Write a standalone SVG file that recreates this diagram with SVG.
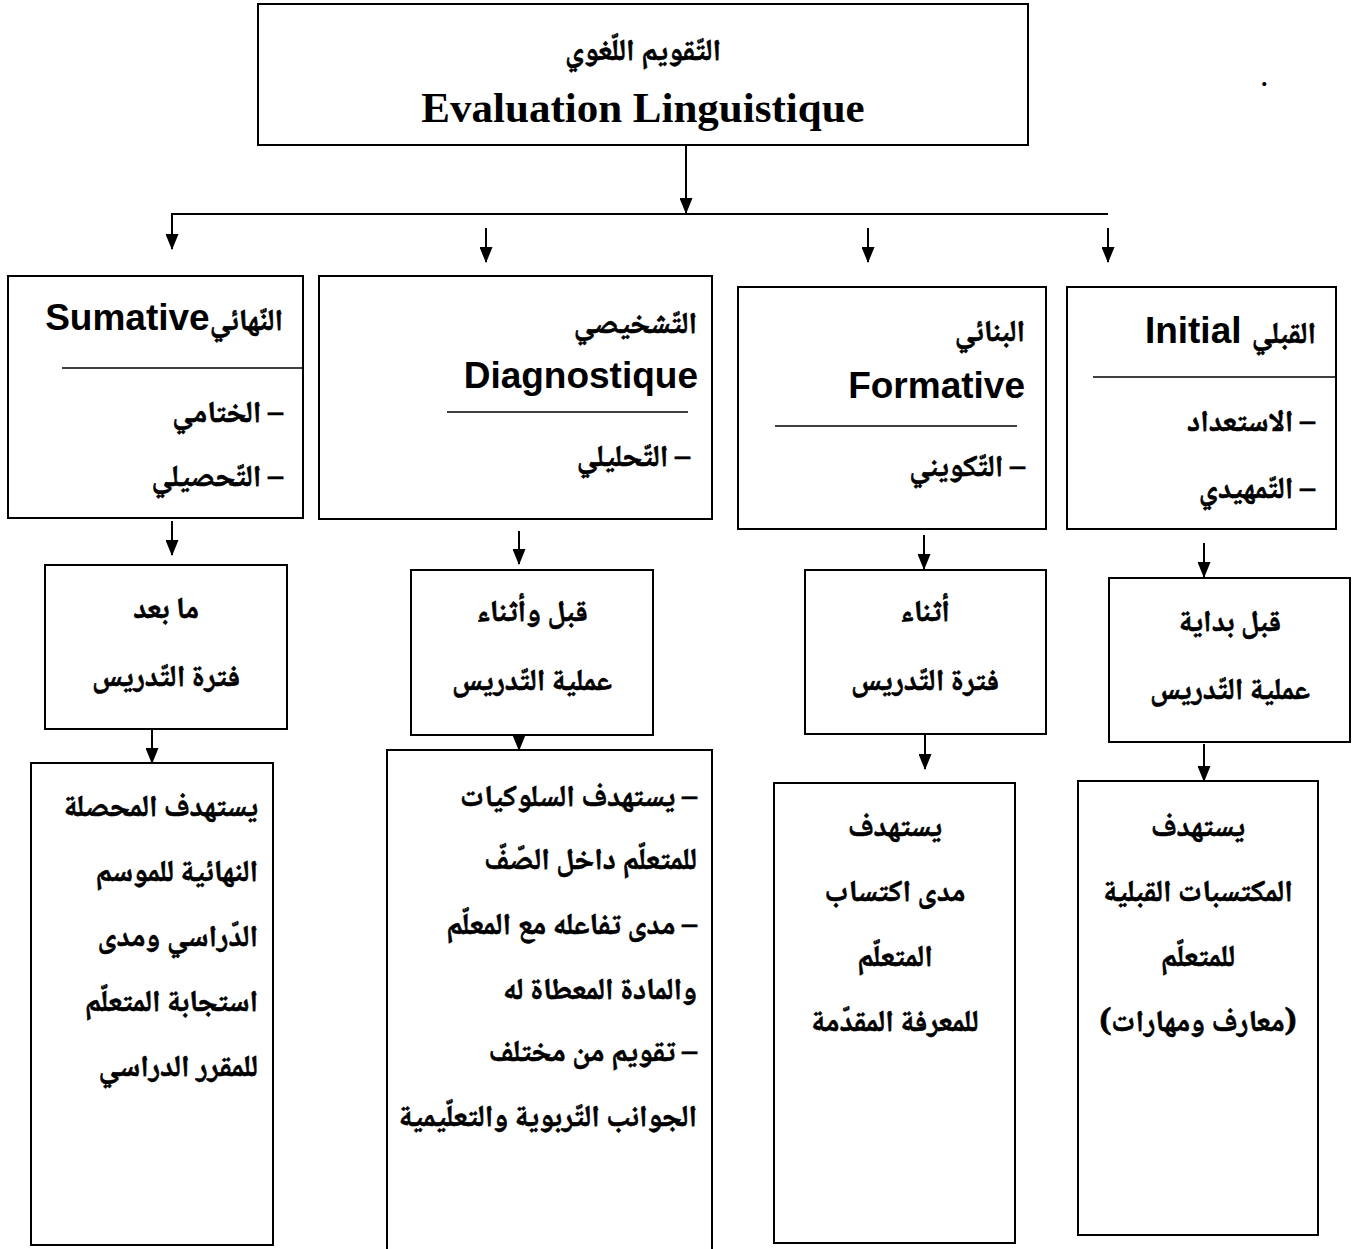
<svg xmlns="http://www.w3.org/2000/svg" width="1352" height="1249" viewBox="0 0 1352 1249">
<style>
.box{fill:#fff;stroke:#000;stroke-width:2}
.sep{stroke:#000;stroke-width:1.5}
.ar{font-family:"Noto Naskh Arabic","Noto Sans Arabic","DejaVu Sans",sans-serif;font-weight:bold;font-size:30px;fill:#000;stroke:#000;stroke-width:0.6}
.lat{font-family:"Liberation Sans",Arial,sans-serif;font-weight:bold;font-size:37px;fill:#000}
.ser{font-family:"Liberation Serif","Times New Roman",serif;font-weight:bold;font-size:43px;fill:#000}
.conn{stroke:#000;stroke-width:2;fill:none}
.e{text-anchor:end}
.m{text-anchor:middle}
.r{direction:rtl;text-anchor:start}
</style>
<defs>
<marker id="arr" markerUnits="userSpaceOnUse" markerWidth="16" markerHeight="13" refX="15" refY="6.5" orient="auto" viewBox="0 0 16 13">
<path d="M0,0 L16,6.5 L0,13 Z" fill="#000"/>
</marker>
</defs>

<g id="top">
<rect class="box" x="258" y="4" width="770" height="141"/>
<text class="ar m" x="643" y="60">التّقويم اللّغوي</text>
<text class="ser m" x="643" y="122">Evaluation Linguistique</text>
</g>
<text x="1260" y="86" font-family="Liberation Serif,serif" font-size="34">.</text>

<g id="connectors">
<line class="conn" x1="686" y1="145" x2="686" y2="213" marker-end="url(#arr)"/>
<polyline class="conn" points="1108,214 172,214 172,249" marker-end="url(#arr)"/>
<line class="conn" x1="486" y1="228" x2="486" y2="262" marker-end="url(#arr)"/>
<line class="conn" x1="868" y1="228" x2="868" y2="262" marker-end="url(#arr)"/>
<line class="conn" x1="1108" y1="228" x2="1108" y2="262" marker-end="url(#arr)"/>
<line class="conn" x1="172" y1="521" x2="172" y2="555" marker-end="url(#arr)"/>
<line class="conn" x1="519" y1="531" x2="519" y2="564" marker-end="url(#arr)"/>
<line class="conn" x1="924" y1="535" x2="924" y2="569" marker-end="url(#arr)"/>
<line class="conn" x1="1204" y1="543" x2="1204" y2="577" marker-end="url(#arr)"/>
<line class="conn" x1="152" y1="729" x2="152" y2="763" marker-end="url(#arr)"/>
<line class="conn" x1="519" y1="714" x2="519" y2="750" marker-end="url(#arr)"/>
<line class="conn" x1="925" y1="735" x2="925" y2="769" marker-end="url(#arr)"/>
<line class="conn" x1="1204" y1="744" x2="1204" y2="781" marker-end="url(#arr)"/>
</g>

<g id="sumative">
<rect class="box" x="8" y="276" width="295" height="242"/>
<text class="e" x="283" y="330"><tspan class="lat">Sumative</tspan><tspan class="ar">النّهائي</tspan></text>
<line class="sep" x1="62" y1="368" x2="303" y2="368"/>
<text class="ar r" x="283" y="422">– الختامي</text>
<text class="ar r" x="283" y="486">– التّحصيلي</text>
</g>

<g id="diagnostique">
<rect class="box" x="319" y="276" width="393" height="243"/>
<text class="ar e" x="697" y="333">التّشخيصي</text>
<text class="lat e" x="698" y="388">Diagnostique</text>
<line class="sep" x1="447" y1="412" x2="688" y2="412"/>
<text class="ar r" x="690" y="466">– التّحليلي</text>
</g>

<g id="formative">
<rect class="box" x="738" y="287" width="308" height="242"/>
<text class="ar e" x="1025" y="341">البنائي</text>
<text class="lat e" x="1025" y="398">Formative</text>
<line class="sep" x1="775" y1="426" x2="1017" y2="426"/>
<text class="ar r" x="1025" y="476">– التّكويني</text>
</g>

<g id="initial">
<rect class="box" x="1067" y="287" width="269" height="242"/>
<text class="e" x="1316" y="343"><tspan class="lat">Initial </tspan><tspan class="ar">القبلي</tspan></text>
<line class="sep" x1="1093" y1="377" x2="1336" y2="377"/>
<text class="ar r" x="1315" y="431">– الاستعداد</text>
<text class="ar r" x="1315" y="498">– التّمهيدي</text>
</g>

<g id="time-sumative">
<rect class="box" x="45" y="565" width="242" height="164"/>
<text class="ar m" x="166" y="618">ما بعد</text>
<text class="ar m" x="166" y="686">فترة التّدريس</text>
</g>
<g id="time-diagnostique">
<rect class="box" x="411" y="570" width="242" height="165"/>
<text class="ar m" x="532" y="621">قبل وأثناء</text>
<text class="ar m" x="532" y="690">عملية التّدريس</text>
</g>
<g id="time-formative">
<rect class="box" x="805" y="570" width="241" height="164"/>
<text class="ar m" x="925" y="621">أثناء</text>
<text class="ar m" x="925" y="690">فترة التّدريس</text>
</g>
<g id="time-initial">
<rect class="box" x="1109" y="578" width="241" height="164"/>
<text class="ar m" x="1230" y="631">قبل بداية</text>
<text class="ar m" x="1230" y="699">عملية التّدريس</text>
</g>

<g id="goal-sumative">
<rect class="box" x="31" y="763" width="242" height="482"/>
<text class="ar e" x="258" y="816">يستهدف المحصلة</text>
<text class="ar e" x="258" y="881">النهائية للموسم</text>
<text class="ar e" x="258" y="946">الدّراسي ومدى</text>
<text class="ar e" x="258" y="1011">استجابة المتعلّم</text>
<text class="ar e" x="258" y="1076">للمقرر الدراسي</text>
</g>
<g id="goal-diagnostique">
<path class="box" d="M387,1252 V750 H712 V1252"/>
<text class="ar r" x="697" y="806">– يستهدف السلوكيات</text>
<text class="ar e" x="697" y="869">للمتعلّم داخل الصّفّ</text>
<text class="ar r" x="697" y="934">– مدى تفاعله مع المعلّم</text>
<text class="ar e" x="697" y="999">والمادة المعطاة له</text>
<text class="ar r" x="697" y="1061">– تقويم من مختلف</text>
<text class="ar e" x="697" y="1126">الجوانب التّربوية والتعلّيمية</text>
</g>
<g id="goal-formative">
<rect class="box" x="774" y="783" width="241" height="460"/>
<text class="ar m" x="895" y="836">يستهدف</text>
<text class="ar m" x="895" y="901">مدى اكتساب</text>
<text class="ar m" x="895" y="966">المتعلّم</text>
<text class="ar m" x="895" y="1031">للمعرفة المقدّمة</text>
</g>
<g id="goal-initial">
<rect class="box" x="1078" y="781" width="240" height="454"/>
<text class="ar m" x="1198" y="836">يستهدف</text>
<text class="ar m" x="1198" y="901">المكتسبات القبلية</text>
<text class="ar m" x="1198" y="966">للمتعلّم</text>
<text class="ar m" x="1198" y="1031">(معارف ومهارات)</text>
</g>
</svg>
